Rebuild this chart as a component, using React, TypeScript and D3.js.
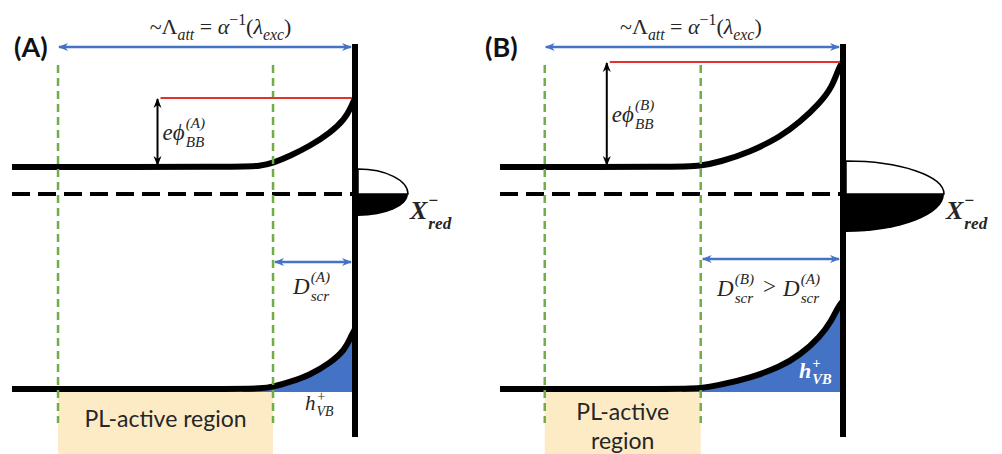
import React, { useLayoutEffect, useRef, useState } from 'react'
import * as d3 from 'd3'

const W = 1002
const H = 454

// panels and their depth values (arbitrary depth units, surface = 0)
const panels = ['A', 'B']
const attLength = [100, 100]
const screening = [27.6, 47.7]
const maxDepth = [115.5, 115]
const arrowDepth = [66.5, 79.2]

// energies in eV relative to E_F
const cbFlat = 0.27
const vbFlat = -1.95
const surfaceBend = [0.69, 1.05]

// band bending (depth -> bend in eV)
const bendDepthA = [38, 32, 27.6, 21.9, 15.2, 8.4, 3.4, 1.3, 0]
const cbBendA = [0, 0.01, 0.04, 0.11, 0.21, 0.34, 0.48, 0.6, 0.69]
const vbBendA = [0, 0.005, 0.02, 0.07, 0.14, 0.26, 0.39, 0.53, 0.6]
const bendDepthB = [54, 48, 41.3, 31.2, 21.1, 14.4, 7.7, 3.7, 1.7, 0]
const cbBendB = [0, 0.01, 0.05, 0.15, 0.3, 0.45, 0.64, 0.8, 0.97, 1.06]
const vbBendB = [0, 0.005, 0.04, 0.11, 0.22, 0.34, 0.52, 0.69, 0.82, 0.88]

// X_red^- occupied states lobe: relative density, spread above / below E_F (eV)
const redoxDos = [0.5, 0.98]
const redoxUpper = [0.25, 0.33]
const redoxLower = [0.22, 0.38]

const BLUE = '#4472c4'
const GREEN = '#70ad47'
const RED = '#e3312b'
const PEACH = '#fdebc6'
const INK = '#262626'
const MATH = "'Liberation Serif', 'DejaVu Serif', serif"
const SANS = "Lato, 'Open Sans', sans-serif"

type Piece = { t: string; i?: boolean; s?: 'sub' | 'sup' }

// inline math text with sub/superscripts
function Seq({ x, y, size, pieces, anchor = 'start' }: { x: number; y: number; size: number; pieces: Piece[]; anchor?: string }) {
  let cur = 0
  return (
    <text x={x} y={y} fontSize={size} fontFamily={MATH} fill={INK} textAnchor={anchor}>
      {pieces.map((p, k) => {
        const target = p.s === 'sub' ? size * 0.28 : p.s === 'sup' ? -size * 0.42 : 0
        const dy = target - cur
        cur = target
        return (
          <tspan key={k} dy={dy} fontSize={p.s ? size * 0.72 : size} fontStyle={p.i ? 'italic' : 'normal'}>
            {p.t}
          </tspan>
        )
      })}
    </text>
  )
}

// main symbol with stacked super- and subscript
function Stacked({ x, y, size, main, sup, sub, fill = INK, bold = false, supUp = 0.5, subDown = 0.3 }:
  { x: number; y: number; size: number; main: string; sup: string; sub: string; fill?: string; bold?: boolean; supUp?: number; subDown?: number }) {
  const ref = useRef<SVGTextElement>(null)
  const [w, setW] = useState(size * 0.6)
  useLayoutEffect(() => {
    if (ref.current) setW(ref.current.getComputedTextLength())
  }, [main, size])
  const s = size * 0.66
  return (
    <g fill={fill} fontFamily={MATH} fontWeight={bold ? 'bold' : 'normal'}>
      <text ref={ref} x={x} y={y} fontSize={size} fontStyle="italic">{main}</text>
      <text x={x + w + 1} y={y - size * supUp} fontSize={s} fontStyle="italic">{sup}</text>
      <text x={x + w + 1} y={y + size * subDown} fontSize={s} fontStyle="italic">{sub}</text>
    </g>
  )
}

const title: Piece[] = [
  { t: '~Λ' }, { t: 'att', i: true, s: 'sub' }, { t: ' = ' }, { t: 'α', i: true },
  { t: '−1', s: 'sup' }, { t: '(' }, { t: 'λ', i: true }, { t: 'exc', i: true, s: 'sub' }, { t: ')' },
]

export default function App() {
  // layout of the two panels
  const panelLeft = [12, 500]
  const wallX = [355, 843]
  const ys = d3.scaleLinear().domain([-2.45, 1.5]).range([439, 44])
  const dos = d3.scaleLinear().domain([0, 1]).range([0, 100])
  const wallBottom = 437
  const topArrowY = 47
  const greenTop = 65
  const greenBottom = 423

  const bends = [
    { depth: bendDepthA, cb: cbBendA, vb: vbBendA },
    { depth: bendDepthB, cb: cbBendB, vb: vbBendB },
  ]

  return (
    <svg width={W} height={H} style={{ position: 'absolute', left: 0, top: 0, background: '#fff' }}>
      <defs>
        <marker id="blueHead" viewBox="0 0 10 10" refX="9" refY="5" markerWidth="10" markerHeight="10"
          markerUnits="userSpaceOnUse" orient="auto-start-reverse">
          <path d="M0,1 L10,5 L0,9 L3,5 Z" fill={BLUE} />
        </marker>
        <marker id="blackHead" viewBox="0 0 10 10" refX="9" refY="5" markerWidth="10" markerHeight="10"
          markerUnits="userSpaceOnUse" orient="auto-start-reverse">
          <path d="M0,1 L10,5 L0,9 L3,5 Z" fill="#000" />
        </marker>
      </defs>
      <rect width={W} height={H} fill="#fff" />
      {panels.map((p, i) => {
        const xs = d3.scaleLinear().domain([maxDepth[i], 0]).range([panelLeft[i], wallX[i]])
        const wall = wallX[i]
        const b = bends[i]
        const cbPts: [number, number][] = [[maxDepth[i], cbFlat], ...b.depth.map((d, k) => [d, cbFlat + b.cb[k]] as [number, number])]
        const vbPts: [number, number][] = [[maxDepth[i], vbFlat], ...b.depth.map((d, k) => [d, vbFlat + b.vb[k]] as [number, number])]
        const band = d3.line<[number, number]>().x(q => xs(q[0])).y(q => ys(q[1])).curve(d3.curveBasis)
        const holes = d3.area<[number, number]>()
          .x(q => xs(q[0])).y0(ys(vbFlat) + 3).y1(q => ys(q[1])).curve(d3.curveBasis)
        const holePts = b.depth.map((d, k) => [d, vbFlat + b.vb[k]] as [number, number])

        const xAtt = xs(attLength[i])
        const xScr = xs(screening[i])
        const xArr = xs(arrowDepth[i])
        const yTopCB = ys(cbFlat + surfaceBend[i])

        // redox lobe
        const wx = wall + 3
        const cy = ys(0)
        const rx = dos(redoxDos[i])
        const ryU = ys(0) - ys(redoxUpper[i])
        const ryL = ys(-redoxLower[i]) - ys(0)

        const boxTop = ys(vbFlat) + 3
        const midAtt = (xAtt + wall) / 2

        return (
          <g key={p}>
            {/* PL-active region */}
            <rect x={xAtt} y={boxTop} width={xScr - xAtt} height={H - boxTop} fill={PEACH} />
            {i === 0 ? (
              <text x={(xAtt + xScr) / 2} y={427} textAnchor="middle" fontFamily={SANS} fontSize={23} fill={INK}>PL-active region</text>
            ) : (
              <text x={(xAtt + xScr) / 2} y={420} textAnchor="middle" fontFamily={SANS} fontSize={23} fill={INK}>
                <tspan x={(xAtt + xScr) / 2}>PL-active</tspan>
                <tspan x={(xAtt + xScr) / 2} dy={29}>region</tspan>
              </text>
            )}

            {/* Fermi level */}
            <line x1={xs(maxDepth[i])} x2={wall} y1={ys(0)} y2={ys(0)} stroke="#000" strokeWidth={4} strokeDasharray="18 8" />

            {/* holes in the valence band */}
            <path d={holes(holePts) ?? ''} fill={BLUE} />

            {/* bands */}
            <path d={band(cbPts) ?? ''} fill="none" stroke="#000" strokeWidth={6} />
            <path d={band(vbPts) ?? ''} fill="none" stroke="#000" strokeWidth={6} />

            {/* green dashed bounds */}
            {[xAtt, xScr].map((gx, k) => (
              <line key={k} x1={gx} x2={gx} y1={greenTop} y2={greenBottom} stroke={GREEN} strokeWidth={2.5} strokeDasharray="8 5" />
            ))}

            {/* redox states */}
            <path d={`M${wx},${cy - ryU} A${rx},${ryU} 0 0 1 ${wx + rx},${cy} L${wx},${cy} Z`} fill="#fff" stroke="#000" strokeWidth={1.5} />
            <path d={`M${wx},${cy} L${wx + rx},${cy} A${rx},${ryL} 0 0 1 ${wx},${cy + ryL} Z`} fill="#000" />

            {/* surface */}
            <line x1={wall} x2={wall} y1={ys.range()[1]} y2={wallBottom} stroke="#000" strokeWidth={6} />

            {/* surface band edge */}
            <line x1={xArr + 3} x2={wall - 3} y1={yTopCB} y2={yTopCB} stroke={RED} strokeWidth={2} />
            <line x1={xArr} x2={xArr} y1={yTopCB + 1} y2={ys(cbFlat) - 2} stroke="#000" strokeWidth={2}
              markerStart="url(#blackHead)" markerEnd="url(#blackHead)" />

            {/* attenuation length arrow */}
            <line x1={xAtt + 1} x2={wall - 4} y1={topArrowY} y2={topArrowY} stroke={BLUE} strokeWidth={2.5}
              markerStart="url(#blueHead)" markerEnd="url(#blueHead)" />
            <Seq x={midAtt + (i === 0 ? 14 : -3)} y={34} size={22} anchor="middle" pieces={title} />

            {/* screening arrow */}
            <line x1={xScr + 2} x2={wall - 4} y1={i === 0 ? 262 : 259} y2={i === 0 ? 262 : 259} stroke={BLUE} strokeWidth={2.5}
              markerStart="url(#blueHead)" markerEnd="url(#blueHead)" />

            {/* panel label */}
            <text x={i === 0 ? 14 : 485} y={57} fontFamily={SANS} fontWeight="bold" fontSize={27} fill="#111">({p})</text>

            {/* band bending label */}
            <Stacked x={xArr + 5} y={(yTopCB + ys(cbFlat)) / 2 + 7} size={23} main="eϕ" sup={`(${p})`} sub="BB" supUp={0.52} subDown={0.32} />

            {/* X_red label */}
            <Stacked x={wx + rx + 2} y={219} size={26} main="X" sup="−" sub="red" bold supUp={0.5} subDown={0.4} />

            {/* holes label */}
            {i === 0 ? (
              <Stacked x={305} y={410} size={21} main="h" sup="+" sub="VB" supUp={0.45} subDown={0.28} />
            ) : (
              <Stacked x={799} y={378} size={22} main="h" sup="+" sub="VB" fill="#fff" bold supUp={0.45} subDown={0.28} />
            )}

            {/* screening label */}
            {i === 0 ? (
              <Stacked x={293} y={294} size={23} main="D" sup="(A)" sub="scr" supUp={0.52} subDown={0.32} />
            ) : (
              <g>
                <Stacked x={717} y={296} size={23} main="D" sup="(B)" sub="scr" supUp={0.52} subDown={0.32} />
                <text x={763} y={294} fontFamily={MATH} fontSize={23} fill={INK}>&gt;</text>
                <Stacked x={783} y={296} size={23} main="D" sup="(A)" sub="scr" supUp={0.52} subDown={0.32} />
              </g>
            )}
          </g>
        )
      })}
    </svg>
  )
}
